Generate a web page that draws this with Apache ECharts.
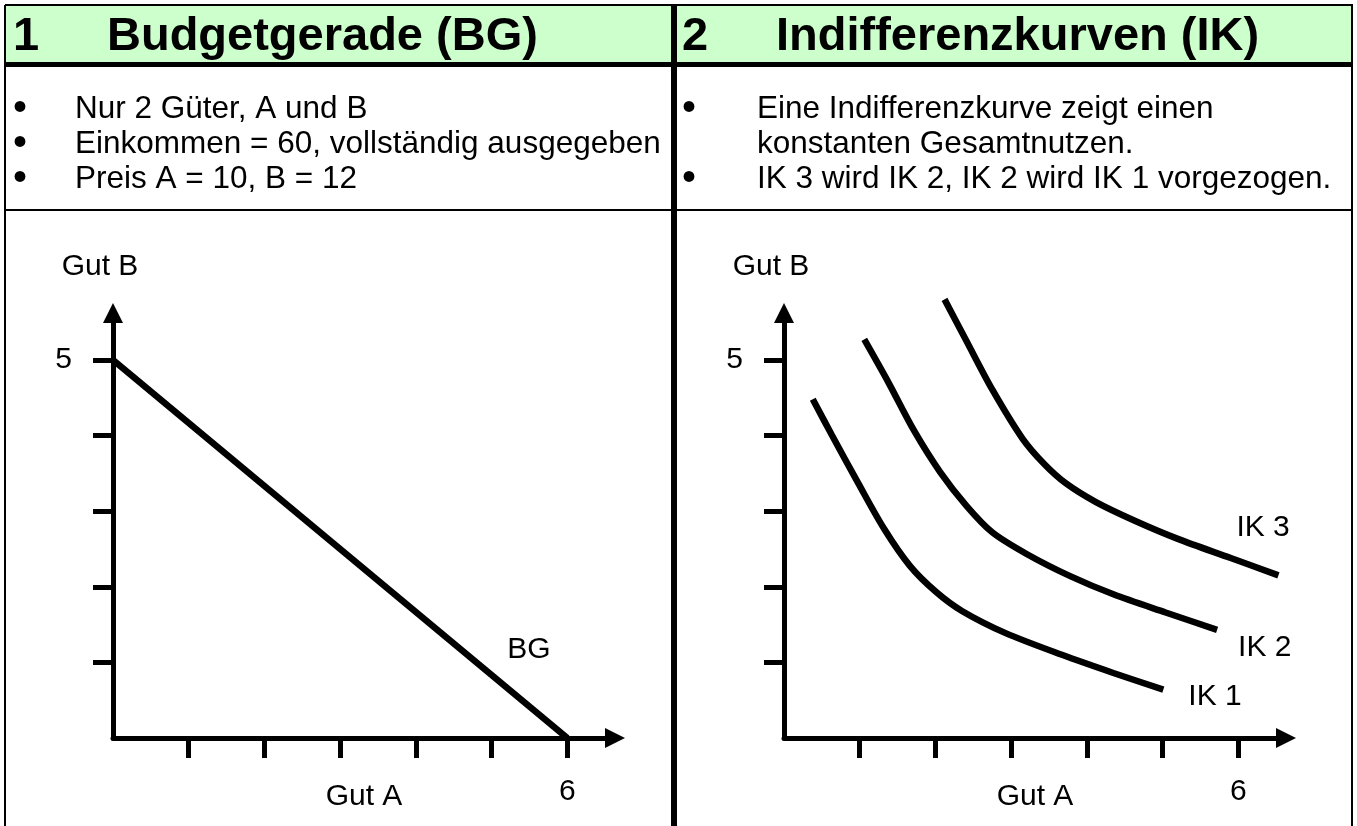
<!DOCTYPE html>
<html>
<head>
<meta charset="utf-8">
<title>Budgetgerade und Indifferenzkurven</title>
<script src="https://cdn.jsdelivr.net/npm/echarts@6/dist/echarts.min.js"></script>
<style>
  html, body { margin: 0; padding: 0; background: #fff; }
  #haushalt { width: 1357px; height: 826px; }
</style>
</head>
<body>
<div id="haushalt"></div>
<script>
// Achsen: Striche und Beschriftungen
var tickGutA = [1, 2, 3, 4, 5, 6];
var tickGutB = [1, 2, 3, 4, 5];
var labelGutA = [6];
var labelGutB = [5];

// Budgetgerade: Einkommen 60, Preis A = 10, Preis B = 12
var budgetGerade = [[0, 5], [6, 0]];

// Indifferenzkurven
var ik1 = [[0.38, 4.48], [0.63, 4.01], [0.98, 3.37], [1.32, 2.77], [1.66, 2.28], [2.01, 1.93],
           [2.35, 1.68], [2.92, 1.39], [3.67, 1.10], [4.35, 0.86], [5.01, 0.64]];
var ik2 = [[1.06, 5.27], [1.38, 4.70], [1.72, 4.06], [2.06, 3.52], [2.41, 3.07], [2.75, 2.72],
           [3.21, 2.43], [3.78, 2.14], [4.35, 1.90], [5.04, 1.66], [5.72, 1.43]];
var ik3 = [[2.12, 5.80], [2.41, 5.25], [2.75, 4.61], [3.15, 3.96], [3.44, 3.62], [3.72, 3.37],
           [4.12, 3.12], [4.64, 2.87], [5.21, 2.63], [5.90, 2.38], [6.53, 2.15]];

// Texte der Tabelle
var titelLinks = ['1', 'Budgetgerade (BG)'];
var titelRechts = ['2', 'Indifferenzkurven (IK)'];
var punkteLinks = ['Nur 2 Güter, A und B', 'Einkommen = 60, vollständig ausgegeben', 'Preis A = 10, B = 12'];
var punkteRechts = [['Eine Indifferenzkurve zeigt einen', 'konstanten Gesamtnutzen.'], ['IK 3 wird IK 2, IK 2 wird IK 1 vorgezogen.']];

var schrift = "'Liberation Sans', Arial, sans-serif";

function xAchse(idx) {
  return {
    type: 'value', gridIndex: idx, min: 0, max: 6.63,
    name: 'Gut A', nameLocation: 'middle', nameGap: 44, nameMoveOverlap: false,
    nameTextStyle: { color: '#000', fontSize: 30, fontFamily: schrift },
    axisLine: { show: true, onZero: false, symbol: ['none', 'triangle'], symbolSize: [20, 20],
                lineStyle: { color: '#000', width: 5 } },
    axisTick: { show: true, inside: false, length: 20, customValues: tickGutA,
                lineStyle: { color: '#000', width: 5 } },
    axisLabel: { show: true, customValues: labelGutA, margin: 39,
                 color: '#000', fontSize: 30, fontFamily: schrift },
    splitLine: { show: false }
  };
}
function yAchse(idx) {
  return {
    type: 'value', gridIndex: idx, min: 0, max: 5.62,
    name: 'Gut B', nameLocation: 'end', nameGap: 31, nameMoveOverlap: false,
    nameTextStyle: { color: '#000', fontSize: 30, fontFamily: schrift, padding: [0, 26, 0, 0] },
    axisLine: { show: true, onZero: false, symbol: ['none', 'triangle'], symbolSize: [20, 20],
                lineStyle: { color: '#000', width: 5 } },
    axisTick: { show: true, inside: false, length: 20, customValues: tickGutB,
                lineStyle: { color: '#000', width: 5 } },
    axisLabel: { show: true, customValues: labelGutB, margin: 41, padding: [16, 0, 0, 0],
                 color: '#000', fontSize: 30, fontFamily: schrift },
    splitLine: { show: false }
  };
}
function kurve(idx, daten, name, versatz, glatt) {
  return {
    type: 'line', name: name, xAxisIndex: idx, yAxisIndex: idx, data: daten,
    smooth: glatt, showSymbol: false, symbol: 'none', clip: false,
    lineStyle: { color: '#000', width: 6.5, cap: 'butt' },
    endLabel: { show: true, formatter: name, position: 'right', distance: 0, offset: versatz,
                color: '#000', fontSize: 30, fontFamily: schrift }
  };
}

// Tabellenrahmen und Texte
var grafik = [
  { type: 'rect', shape: { x: 5, y: 5, width: 1348, height: 58 }, style: { fill: '#ccffcc' }, z: 0 },
  { type: 'line', shape: { x1: 5, y1: 5, x2: 1353, y2: 5 }, style: { stroke: '#000', lineWidth: 2 } },
  { type: 'line', shape: { x1: 5, y1: 64.5, x2: 1353, y2: 64.5 }, style: { stroke: '#000', lineWidth: 5 } },
  { type: 'line', shape: { x1: 5, y1: 210, x2: 1353, y2: 210 }, style: { stroke: '#000', lineWidth: 2 } },
  { type: 'line', shape: { x1: 5, y1: 5, x2: 5, y2: 826 }, style: { stroke: '#000', lineWidth: 2 } },
  { type: 'line', shape: { x1: 1352, y1: 5, x2: 1352, y2: 826 }, style: { stroke: '#000', lineWidth: 2 } },
  { type: 'line', shape: { x1: 674, y1: 5, x2: 674, y2: 826 }, style: { stroke: '#000', lineWidth: 6 } }
];
function titel(x0, t) {
  grafik.push({ type: 'text', style: { x: x0 + 13, y: 37, text: t[0], fill: '#000',
    font: 'bold 47px ' + schrift, verticalAlign: 'middle' } });
  grafik.push({ type: 'text', style: { x: x0 + 107, y: 37, text: t[1], fill: '#000',
    font: 'bold 47px ' + schrift, verticalAlign: 'middle' } });
}
titel(0, titelLinks);
titel(669, titelRechts);

var zeileY = [109, 144, 179];
function punkt(x, y) {
  grafik.push({ type: 'text', style: { x: x, y: y, text: '•', fill: '#000', font: '40px ' + schrift,
    align: 'center', verticalAlign: 'middle' } });
}
punkteLinks.forEach(function (t, i) {
  punkt(20, zeileY[i]);
  grafik.push({ type: 'text', style: { x: 75, y: zeileY[i], text: t, fill: '#000', font: '31.5px ' + schrift, verticalAlign: 'middle' } });
});
var zeile = 0;
punkteRechts.forEach(function (absatz) {
  absatz.forEach(function (t, j) {
    if (j === 0) punkt(689, zeileY[zeile]);
    grafik.push({ type: 'text', style: { x: 757, y: zeileY[zeile], text: t, fill: '#000', font: '31.5px ' + schrift, verticalAlign: 'middle' } });
    zeile++;
  });
});

var myChart = echarts.init(document.getElementById('haushalt'));
var option = {
  animation: false,
  backgroundColor: '#fff',
  grid: [
    { left: 113, top: 313, width: 502, height: 425, containLabel: false, outerBoundsMode: 'none' },
    { left: 784, top: 313, width: 502, height: 425, containLabel: false, outerBoundsMode: 'none' }
  ],
  xAxis: [xAchse(0), xAchse(1)],
  yAxis: [yAchse(0), yAchse(1)],
  series: [
    kurve(0, budgetGerade, 'BG', [-60, -88], false),
    kurve(1, ik1, 'IK 1', [25, 7], 0.3),
    kurve(1, ik2, 'IK 2', [21, 18], 0.3),
    kurve(1, ik3, 'IK 3', [-42, -48], 0.3)
  ],
  graphic: grafik
};
myChart.setOption(option);
</script>
</body>
</html>
